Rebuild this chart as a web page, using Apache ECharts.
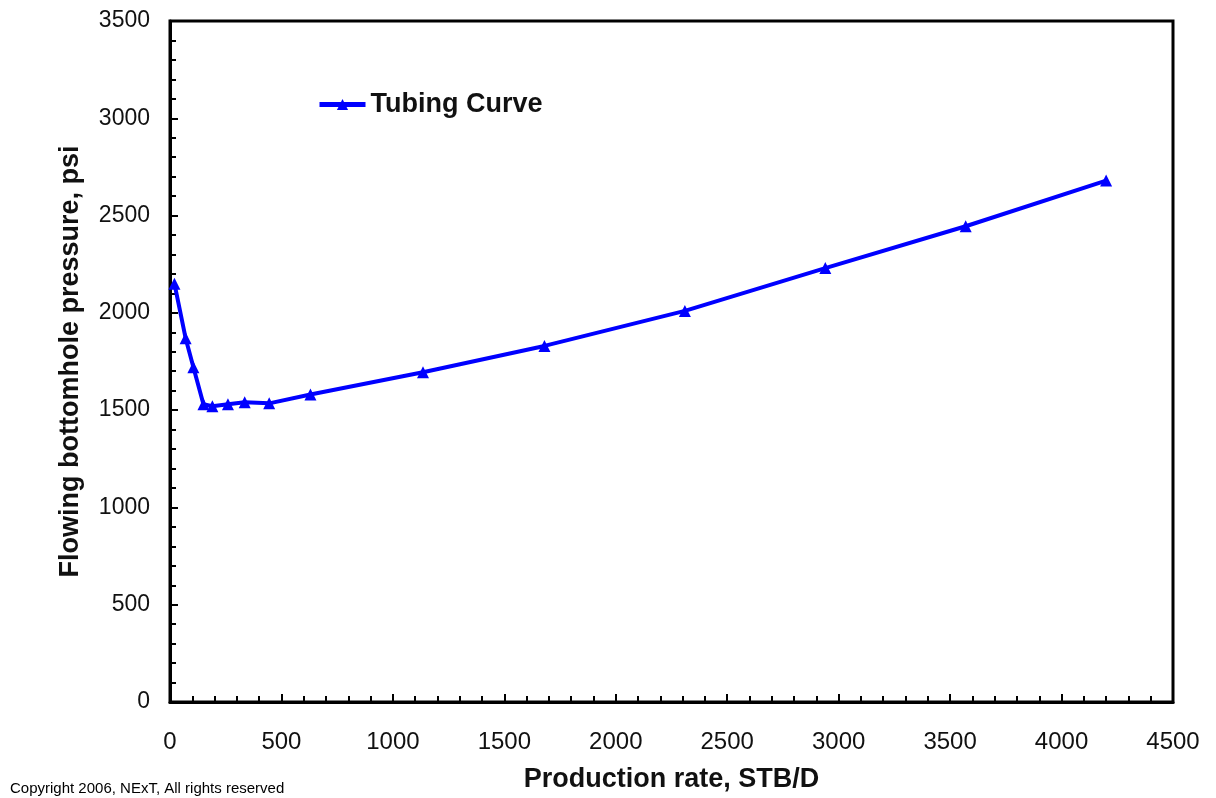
<!DOCTYPE html>
<html>
<head>
<meta charset="utf-8">
<script src="https://cdn.jsdelivr.net/npm/echarts@6/dist/echarts.min.js"></script>
<style>html,body{margin:0;padding:0;background:#fff;}#c{width:1216px;height:798px;}</style>
</head>
<body>
<div id="c"></div>
<script>
var rates = [20, 70, 105, 150, 190, 260, 335, 445, 630, 1135, 1680, 2310, 2940, 3570, 4200];
var pressures = [2150, 1870, 1720, 1530, 1520, 1530, 1540, 1535, 1580, 1695, 1830, 2010, 2230, 2445, 2680];
var seriesName = 'Tubing Curve';
var xTitle = 'Production rate, STB/D';
var yTitle = 'Flowing bottomhole pressure, psi';
var copyright = 'Copyright 2006, NExT, All rights reserved';

var chart = echarts.init(document.getElementById('c'));
var fontFam = '"Liberation Sans", Arial, sans-serif';
function plain(v) { return String(v); }
chart.setOption({
  animation: false,
  backgroundColor: '#ffffff',
  grid: {left: 170, right: 43, top: 21, bottom: 94, show: true, borderColor: '#000', borderWidth: 3, backgroundColor: 'transparent'},
  graphic: [{type: 'text', left: 10, top: 781, style: {text: copyright, font: '15px ' + fontFam, fill: '#000'}}],
  legend: {
    data: [seriesName], left: 312, top: 86, itemWidth: 46, itemHeight: 14, itemGap: 2,
    lineStyle: {width: 5, color: '#0000ff'},
    textStyle: {fontFamily: fontFam, fontSize: 27, fontWeight: 'bold', color: '#111'}
  },
  xAxis: {
    type: 'value', min: 0, max: 4500, interval: 500,
    name: xTitle, nameLocation: 'middle', nameGap: 64,
    nameTextStyle: {fontFamily: fontFam, fontSize: 27, fontWeight: 'bold', color: '#111'},
    axisLine: {show: true, onZero: false, lineStyle: {color: '#000', width: 3}},
    axisTick: {show: true, inside: true, length: 8, lineStyle: {color: '#000', width: 2}},
    minorTick: {show: true, splitNumber: 5, length: 6, lineStyle: {color: '#000', width: 2}},
    axisLabel: {fontFamily: fontFam, fontSize: 24, color: '#111', margin: 28, formatter: plain},
    splitLine: {show: false}
  },
  yAxis: {
    type: 'value', min: 0, max: 3500, interval: 500,
    name: yTitle, nameLocation: 'middle', nameGap: 86,
    nameTextStyle: {fontFamily: fontFam, fontSize: 27, fontWeight: 'bold', color: '#111'},
    axisLine: {show: true, onZero: false, lineStyle: {color: '#000', width: 3}},
    axisTick: {show: true, inside: true, length: 8, lineStyle: {color: '#000', width: 2}},
    minorTick: {show: true, splitNumber: 5, length: 6, lineStyle: {color: '#000', width: 2}},
    axisLabel: {fontFamily: fontFam, fontSize: 23, color: '#111', margin: 20, formatter: plain},
    splitLine: {show: false}
  },
  series: [{
    name: seriesName, type: 'line',
    data: rates.map(function (r, i) { return [r, pressures[i]]; }),
    symbol: 'triangle', symbolSize: 12,
    lineStyle: {color: '#0000ff', width: 4},
    itemStyle: {color: '#0000ff'}
  }]
});
</script>
</body>
</html>
